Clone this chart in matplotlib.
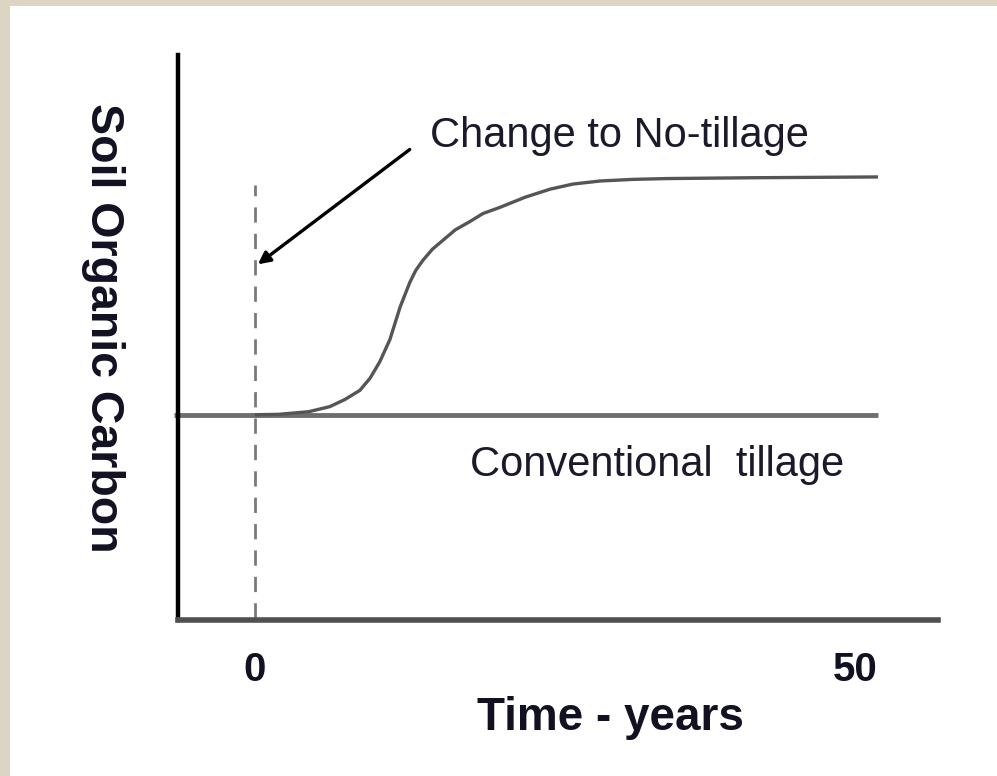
import matplotlib.pyplot as plt
from matplotlib.patches import Rectangle

# data (years, relative soil organic carbon)
years_nt = [0, 2, 4.5, 6.25, 7.5, 8.75, 9.6, 10.4, 11.25, 12.1, 12.5, 12.9, 13.4, 14,
            14.8, 15.7, 16.7, 17.9, 19, 20.4, 22.5, 24.6, 26.5, 28.75, 31.5, 34.3, 41.25, 51.9]
soc_nt = [1.0, 1.002, 1.015, 1.04, 1.075, 1.12, 1.18, 1.26, 1.37, 1.53, 1.59, 1.65, 1.71, 1.76,
          1.815, 1.86, 1.91, 1.95, 1.99, 2.02, 2.07, 2.11, 2.135, 2.15, 2.158, 2.162, 2.166, 2.17]
years_ct = [-6.7, 51.9]
soc_ct = [1.0, 1.0]
xticks = [0, 50]
xtick_labels = ['0', '50']

plt.rcParams['font.family'] = ['Liberation Sans', 'DejaVu Sans']

fig = plt.figure(figsize=(9.97, 7.76), dpi=100)
fig.patch.set_facecolor('#dcd5c4')
fig.patches.append(Rectangle((10 / 997, 0), 1, 1 - 6 / 776, transform=fig.transFigure,
                             facecolor='white', edgecolor='none', zorder=-5))

ax = fig.add_axes([178 / 997, 1 - 620 / 776, 760 / 997, 565 / 776])
ax.set_zorder(2)
ax.set_facecolor('none')
ax.set_xlim(-6.4, 56.9)
ax.set_ylim(-0.01, 2.77)

for s in ['top', 'right']:
    ax.spines[s].set_visible(False)
ax.spines['left'].set_color('black')
ax.spines['left'].set_linewidth(3.2)
ax.spines['bottom'].set_color('#505050')
ax.spines['bottom'].set_linewidth(4)

ax.set_yticks([])
ax.set_xticks(xticks)
ax.set_xticklabels(xtick_labels, fontsize=29, fontweight='bold', color='#111122')
ax.tick_params(axis='x', length=0, pad=22)

# vertical dashed marker at the change
ax.plot([0, 0], [0, 2.13], color='#7a7a7a', lw=2, dashes=(5.5, 4))

ax.plot(years_ct, soc_ct, color='#6e6e6e', lw=3.5, solid_capstyle='butt', clip_on=False)
ax.plot(years_nt, soc_nt, color='#555555', lw=2.4, solid_capstyle='butt')

ax.annotate('', xy=(0.25, 1.74), xytext=(12.9, 2.305),
            arrowprops=dict(arrowstyle='-|>', color='black', lw=2.4,
                            mutation_scale=18, shrinkA=0, shrinkB=0))

ax.text(14.6, 2.37, 'Change to No-tillage', fontsize=30, color='#1a1a2a', va='center', ha='left')
ax.text(17.9, 0.755, 'Conventional  tillage', fontsize=30, color='#1a1a2a', va='center', ha='left')

fig.text(610 / 997, 1 - 718 / 776, 'Time - years', fontsize=33, fontweight='bold',
         color='#111122', ha='center', va='center')
fig.text(103 / 997, 1 - 328 / 776, 'Soil Organic Carbon', fontsize=33.5, fontweight='bold',
         color='#111122', ha='center', va='center', rotation=-90)

fig.savefig('out.png', dpi=100, facecolor=fig.get_facecolor())
